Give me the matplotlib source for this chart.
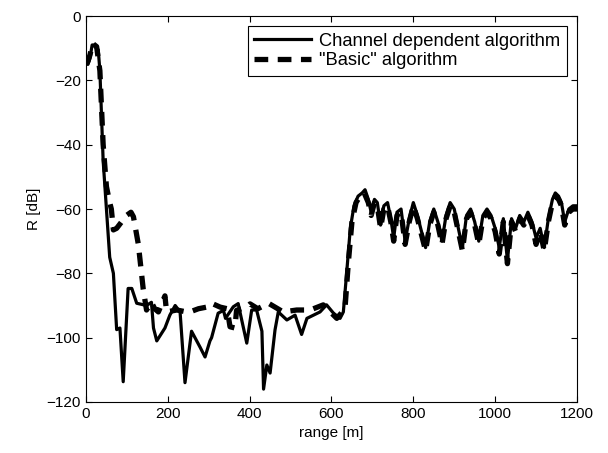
import matplotlib
matplotlib.use('Agg')
import matplotlib.pyplot as plt

plt.rcParams['font.family'] = ['Liberation Sans', 'DejaVu Sans']

# Channel dependent algorithm
r_chan = [0, 5, 10, 15, 20, 25, 30, 34, 42, 50, 58, 67, 75, 83, 91, 103, 112, 124,
          148, 160, 165, 173, 193, 205, 218, 230, 242, 258, 279, 291, 303, 307, 323,
          336, 341, 360, 372, 377, 393, 405, 417, 430, 434, 442, 450, 462, 470, 491,
          511, 527, 540, 556, 572, 588, 605, 621, 629, 637, 646, 655, 665, 675, 682,
          690, 697, 705, 712, 720, 728, 737, 745, 752, 760, 770, 780, 790, 800, 810,
          820, 830, 840, 850, 860, 870, 880, 890, 900, 910, 920, 930, 940, 950, 960,
          970, 980, 990, 1000, 1010, 1020, 1030, 1040, 1050, 1060, 1070, 1080, 1090,
          1100, 1110, 1120, 1130, 1140, 1147, 1155, 1162, 1170, 1180, 1190, 1200]
R_chan = [-15, -15, -13, -9, -9, -10, -10.5, -17, -45, -60, -75, -80, -97.5, -97, -113.7,
          -84.7, -84.7, -89.3, -90, -89, -97, -101, -97, -93, -90, -92, -114, -98, -103,
          -106, -101, -100, -92.4, -91.5, -94, -90.4, -89.4, -92.4, -101.7, -91.4, -91.4,
          -98, -116, -108.5, -111, -97.6, -92, -94.5, -93, -99, -94, -93, -92, -89.8,
          -92.4, -94, -92, -80, -66, -59, -56, -55, -54, -57, -61, -57, -58, -65, -59,
          -58, -63, -69, -61, -60, -70, -63, -58, -62, -67, -72, -64, -60, -64, -70, -62,
          -58, -60, -66, -72, -62, -60, -64, -70, -62, -60, -62, -66, -72, -63, -76, -63,
          -66, -62, -64, -61, -64, -69, -66, -72, -63, -57, -55, -56, -58, -64, -60, -59,
          -59]

# "Basic" algorithm
r_basic = [0, 5, 10, 16, 26, 34, 42, 50, 58, 62, 67, 75, 87, 99, 110, 116, 128, 140,
           148, 160, 168, 177, 193, 197, 222, 246, 254, 275, 299, 307, 328, 345, 352,
           364, 368, 393, 401, 420, 446, 482, 515, 548, 580, 613, 633, 641, 650, 660,
           670, 680, 690, 697, 705, 712, 720, 728, 737, 745, 752, 760, 770, 780, 790,
           800, 810, 820, 830, 840, 850, 860, 870, 880, 890, 900, 910, 920, 930, 940,
           950, 960, 970, 980, 990, 1000, 1010, 1020, 1030, 1040, 1050, 1060, 1070,
           1080, 1090, 1100, 1110, 1120, 1130, 1140, 1147, 1155, 1162, 1170, 1180,
           1190, 1200]
R_basic = [-15, -14, -12, -8.5, -9.5, -17, -40, -53, -58, -60, -66.5, -66, -64, -62, -61,
           -62.4, -71, -85, -91.4, -89, -91, -92, -87, -92, -91.4, -92, -92, -91, -90.4,
           -89.3, -90.5, -91, -96.6, -97, -91.5, -90.5, -89.5, -91, -89.3, -92, -91.4,
           -91.4, -89.8, -94, -91, -77, -64, -58, -56, -55, -58, -62, -58, -59, -66, -60,
           -59, -64, -70, -62, -61, -71, -64, -59, -63, -68, -73, -65, -61, -65, -71, -63,
           -59, -61, -67, -73, -63, -61, -65, -71, -63, -61, -63, -67, -74, -64, -77, -64,
           -67, -63, -65, -62, -65, -71, -67, -73, -64, -58, -56, -57, -59, -65, -61, -60,
           -60]

fig = plt.figure(figsize=(6.08, 4.53), dpi=100)
ax = fig.add_axes([0.1414, 0.1126, 0.8076, 0.852])

ax.plot(r_chan, R_chan, color='black', linewidth=2.3, label='Channel dependent algorithm')
ax.plot(r_basic, R_basic, color='black', linewidth=3.8, linestyle=(0, (2.6, 1.8)),
        label='"Basic" algorithm')

ax.set_xlim(0, 1200)
ax.set_ylim(-120, 0)
ax.set_xticks(range(0, 1201, 200))
ax.set_yticks(range(-120, 1, 20))
ax.set_yticklabels(['\u2212120', '\u2212100', '\u221280', '\u221260', '\u221240', '\u221220', '0'])
ax.tick_params(direction='in', top=True, right=True, labelsize=11, length=4)
ax.set_xlabel('range [m]', fontsize=11)
ax.set_ylabel('R [dB]', fontsize=11)

leg = ax.legend(loc='upper right', fontsize=13.2, handlelength=3.1, handletextpad=0.45,
                labelspacing=0.15, borderpad=0.35, borderaxespad=0.55,
                fancybox=False, framealpha=1, edgecolor='black')
leg.get_frame().set_linewidth(0.8)

fig.savefig('out.png', dpi=100)
